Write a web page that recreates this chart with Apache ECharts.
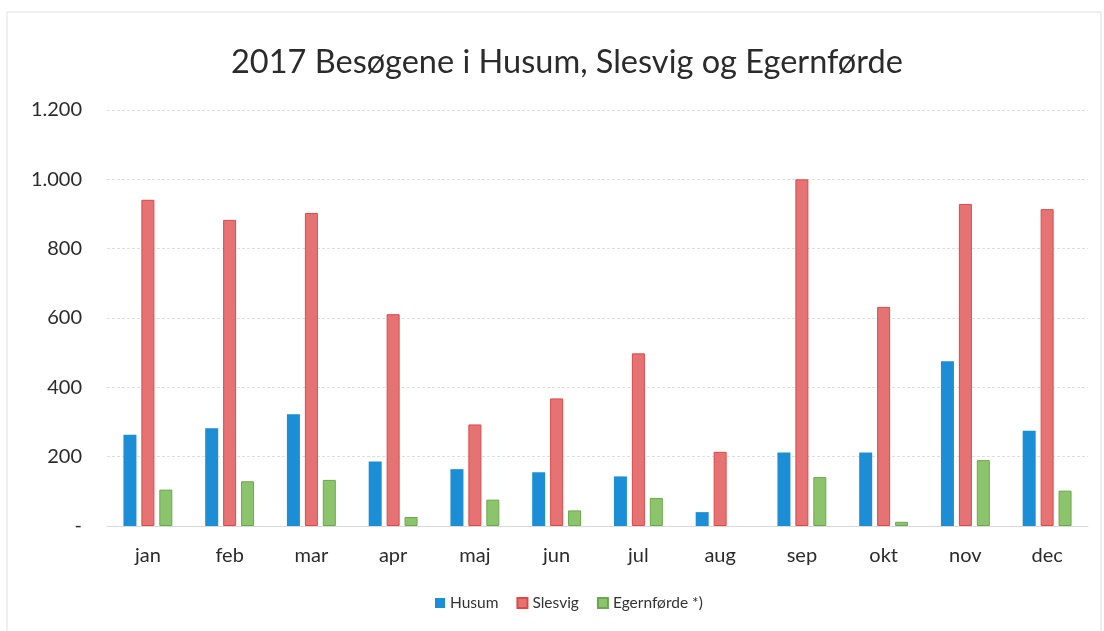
<!DOCTYPE html>
<html>
<head>
<meta charset="utf-8">
<script src="https://cdn.jsdelivr.net/npm/echarts@6/dist/echarts.min.js"></script>
<style>
  html, body { margin: 0; padding: 0; background: #fff; }
  #chart { width: 1104px; height: 631px; }
</style>
</head>
<body>
<div id="chart"></div>
<script>
// data (no Egernførde bar in aug)
var months = ['jan', 'feb', 'mar', 'apr', 'maj', 'jun', 'jul', 'aug', 'sep', 'okt', 'nov', 'dec'];
var husum = [263, 282, 322, 186, 164, 155, 143, 40, 212, 212, 475, 275];
var slesvig = [941, 883, 903, 611, 293, 368, 498, 214, 1000, 632, 929, 914];
var egernforde = [105, 129, 133, 26, 76, 45, 81, null, 141, 12, 190, 102];
var yTickLabels = ['-', '200', '400', '600', '800', '1.000', '1.200'];

var chart = echarts.init(document.getElementById('chart'));

var font = 'Lato, "Open Sans", sans-serif';

var option = {
    backgroundColor: '#fff',
    textStyle: { fontFamily: font },
    title: {
        text: '2017 Besøgene i Husum, Slesvig og Egernførde',
        left: 226,
        top: 41,
        textStyle: { fontSize: 32.5, fontWeight: 'normal', color: '#2b2b2b', fontFamily: font }
    },
    legend: {
        data: ['Husum', 'Slesvig', 'Egernførde *)'],
        bottom: 15,
        left: 430,
        itemWidth: 10,
        itemHeight: 10,
        itemGap: 18,
        icon: 'rect',
        textStyle: { fontSize: 15.5, color: '#333', fontFamily: font }
    },
    grid: { left: 107, right: 16, top: 110, bottom: 105 },
    xAxis: {
        type: 'category',
        data: months,
        axisLine: { lineStyle: { color: '#d9d9d9' } },
        axisTick: { show: false },
        axisLabel: { fontSize: 20, color: '#2b2b2b', margin: 20, fontFamily: font }
    },
    yAxis: {
        type: 'value',
        min: 0,
        max: 1200,
        interval: 200,
        axisLine: { show: false },
        axisTick: { show: false },
        splitLine: { lineStyle: { color: '#dedede', type: [3, 2] } },
        axisLabel: {
            fontSize: 20, color: '#2b2b2b', margin: 25, fontFamily: font,
            formatter: function (v) { return yTickLabels[Math.round(v / 200)]; }
        }
    },
    series: [
        {
            name: 'Husum', type: 'bar', data: husum, barWidth: 13, barGap: '38%',
            itemStyle: { color: '#1b8ed6' }
        },
        {
            name: 'Slesvig', type: 'bar', data: slesvig, barWidth: 13, barGap: '38%',
            itemStyle: { color: '#e57373', borderColor: '#e04848', borderWidth: 1 }
        },
        {
            name: 'Egernførde *)', type: 'bar', data: egernforde, barWidth: 13, barGap: '38%',
            itemStyle: { color: '#8cc46c', borderColor: '#6aa84f', borderWidth: 1 }
        }
    ],
    graphic: [{
        type: 'rect',
        shape: { x: 7, y: 12, width: 1094, height: 620 },
        style: { fill: 'none', stroke: '#e0e0e0', lineWidth: 1 },
        silent: true
    }]
};

chart.setOption(option);
</script>
</body>
</html>
